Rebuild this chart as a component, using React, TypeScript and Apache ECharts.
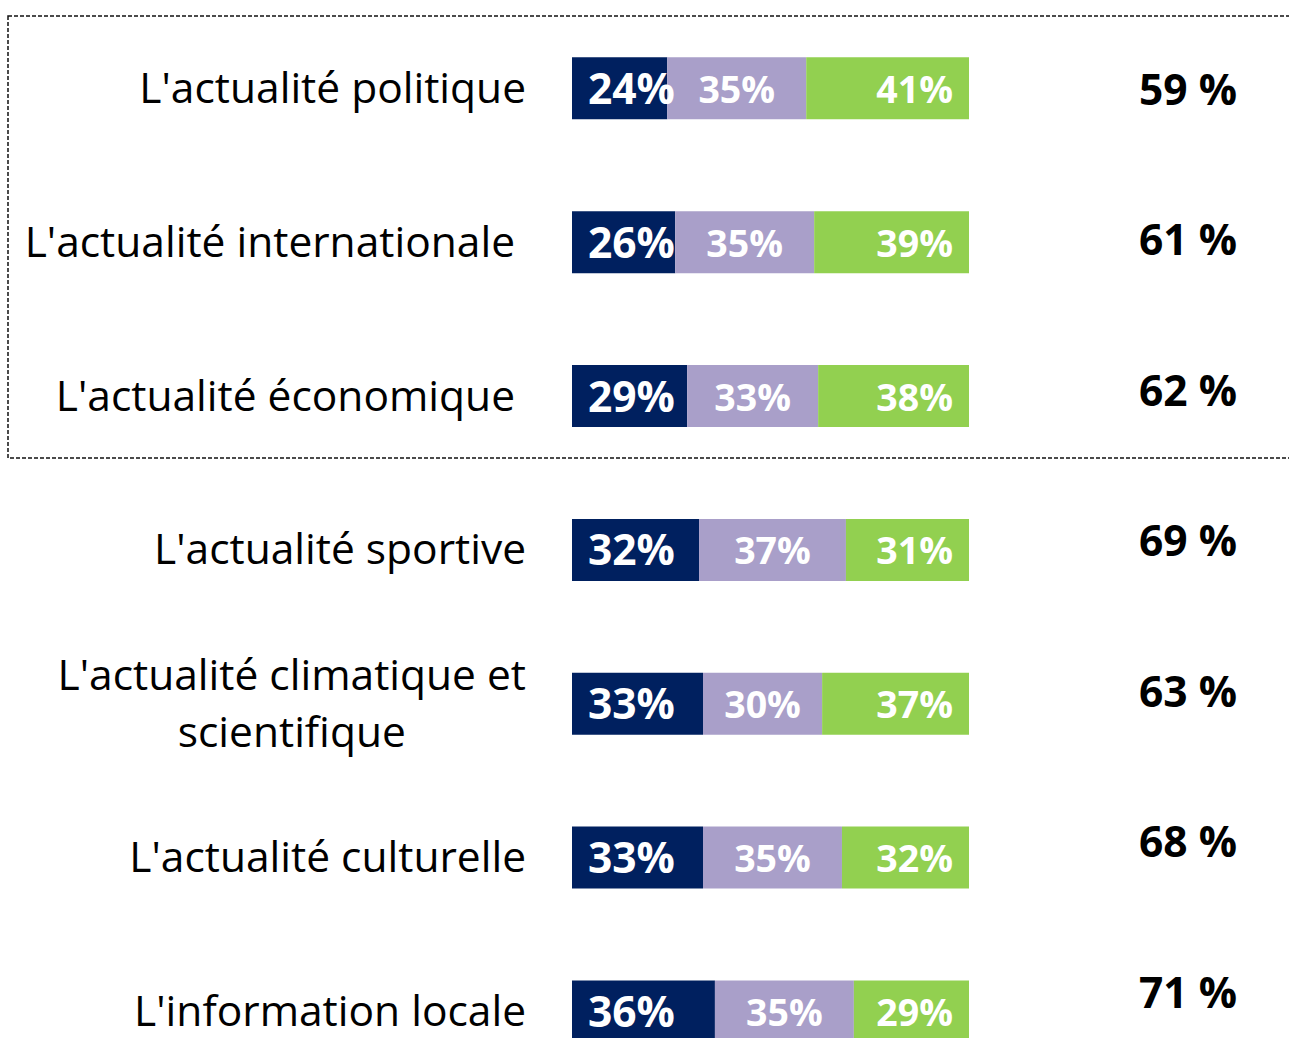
import React, { useEffect, useRef } from "react";
import * as echarts from "echarts";

const categories = [
  "L'actualité politique",
  "L'actualité internationale",
  "L'actualité économique",
  "L'actualité sportive",
  "L'actualité climatique et\nscientifique",
  "L'actualité culturelle",
  "L'information locale",
];
const seriesA = [24, 26, 29, 32, 33, 33, 36];
const seriesB = [35, 35, 33, 37, 30, 35, 35];
const seriesC = [41, 39, 38, 31, 37, 32, 29];
const totals = [59, 61, 62, 69, 63, 68, 71];

const FONT = "'Open Sans', 'Noto Sans', sans-serif";

export default function App() {
  const ref = useRef<HTMLDivElement>(null);
  useEffect(() => {
    document.body.style.margin = "0";
    const chart = echarts.init(ref.current!, null, { renderer: "svg" });
    const labelPad = [0, 11, 11, 0, 0, 0, 0];
    chart.setOption({
      animation: false,
      backgroundColor: "#ffffff",
      grid: [
        { left: 572, width: 397, top: 11.4, height: 1077, containLabel: false },
        { left: 1140, width: 96, top: 12.8, height: 1054, containLabel: false },
      ],
      xAxis: [
        { gridIndex: 0, type: "value", min: 0, max: 100, show: false },
        { gridIndex: 1, type: "value", min: 0, max: 1, show: false },
      ],
      yAxis: [
        {
          gridIndex: 0,
          type: "category",
          inverse: true,
          data: categories.map((c, i) => ({
            value: c,
            textStyle: { padding: [0, labelPad[i], 4, 0] },
          })),
          axisLine: { show: false },
          axisTick: { show: false },
          axisLabel: {
            margin: 46,
            color: "#000",
            fontFamily: FONT,
            fontSize: 42.5,
            lineHeight: 44,
            formatter: (v: string) =>
              v
                .split("\n")
                .map((l) => `{c|${l}}`)
                .join("\n"),
            rich: {
              c: {
                align: "center",
                color: "#000",
                fontFamily: FONT,
                fontSize: 42.5,
                lineHeight: 57,
              },
            },
          },
        },
        {
          gridIndex: 1,
          type: "category",
          inverse: true,
          data: categories,
          show: false,
        },
      ],
      graphic: [
        {
          type: "rect",
          shape: { x: 8, y: 16, width: 1300, height: 442 },
          style: { fill: "none", stroke: "#111", lineWidth: 1.5, lineDash: [4, 2] },
          z: 10,
        },
      ],
      series: [
        {
          type: "bar",
          stack: "s",
          barWidth: 62,
          data: seriesA,
          itemStyle: { color: "#00205F" },
          label: {
            show: true,
            position: "insideLeft",
            distance: 16,
            offset: [0, -1],
            formatter: "{c}%",
            color: "#fff",
            fontFamily: FONT,
            fontWeight: "bold",
            fontSize: 42.5,
            lineHeight: 44,
          },
        },
        {
          type: "bar",
          stack: "s",
          barWidth: 62,
          data: seriesB,
          itemStyle: { color: "#A99FC9" },
          label: {
            show: true,
            position: "inside",
            formatter: "{c}%",
            color: "#fff",
            fontFamily: FONT,
            fontWeight: "bold",
            fontSize: 37.5,
          },
        },
        {
          type: "bar",
          stack: "s",
          barWidth: 62,
          data: seriesC,
          itemStyle: { color: "#92D050" },
          label: {
            show: true,
            position: "insideRight",
            distance: 16,
            formatter: "{c}%",
            color: "#fff",
            fontFamily: FONT,
            fontWeight: "bold",
            fontSize: 37.5,
          },
        },
        {
          type: "scatter",
          xAxisIndex: 1,
          yAxisIndex: 1,
          symbolSize: 1,
          itemStyle: { color: "rgba(0,0,0,0)", opacity: 1 },
          data: totals.map((t, i) => [0.5, i]),
          label: {
            show: true,
            position: "inside",
            formatter: (p: any) => `${totals[p.dataIndex]} %`,
            color: "#000",
            opacity: 1,
            fontFamily: FONT,
            fontWeight: "bold",
            fontSize: 42.5,
          },
        },
      ],
    });
    return () => chart.dispose();
  }, []);
  return (
    <div style={{ width: 1289, height: 1038, overflow: "hidden" }}>
      <div ref={ref} style={{ width: 1289, height: 1120 }} />
    </div>
  );
}
